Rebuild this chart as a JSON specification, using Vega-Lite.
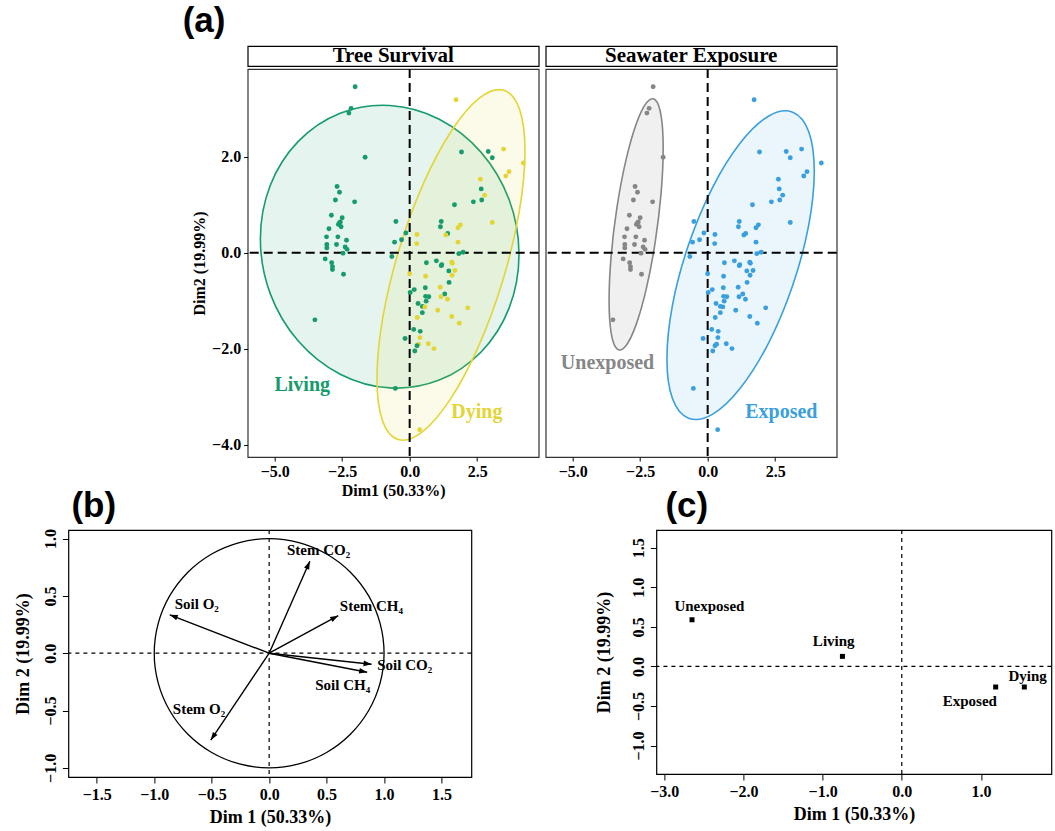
{
"$schema": "https://vega.github.io/schema/vega-lite/v6.json",
"padding": {"left": 13, "top": 4, "right": 0, "bottom": 0},
"background": "white",
"config": {
  "view": {"stroke": "black", "strokeWidth": 1.2},
  "font": "Liberation Serif",
  "axis": {"labelFont": "Liberation Serif", "labelFontWeight": "bold", "titleFont": "Liberation Serif", "titleFontWeight": "bold", "labelColor": "black", "titleColor": "black", "tickColor": "black", "grid": false, "domain": false, "labelFlush": false},
  "title": {"font": "Liberation Sans", "fontWeight": "bold", "fontSize": 35, "anchor": "start", "color": "black"},
  "text": {"font": "Liberation Serif", "fontWeight": "bold"}
},
"datasets": {
  "zero": [{"z": 0}],
  "strips": [{"strip": "Tree Survival"}, {"strip": "Seawater Exposure"}],
  "alab": [
    {"p": "a1", "lab": "Living", "x": -3.98, "y": -2.75},
    {"p": "a1", "lab": "Dying", "x": 2.49, "y": -3.33},
    {"p": "a2", "lab": "Unexposed", "x": -3.71, "y": -2.3},
    {"p": "a2", "lab": "Exposed", "x": 2.73, "y": -3.32}
  ],
  "ell": [
    {"g": "Living", "i": 0, "x": 4.05, "y": -0.037},
    {"g": "Living", "i": 1, "x": 3.686, "y": 1.103},
    {"g": "Living", "i": 2, "x": 2.647, "y": 2.092},
    {"g": "Living", "i": 3, "x": 1.095, "y": 2.783},
    {"g": "Living", "i": 4, "x": -0.74, "y": 3.069},
    {"g": "Living", "i": 5, "x": -2.575, "y": 2.907},
    {"g": "Living", "i": 6, "x": -4.127, "y": 2.32},
    {"g": "Living", "i": 7, "x": -5.166, "y": 1.401},
    {"g": "Living", "i": 8, "x": -5.53, "y": 0.287},
    {"g": "Living", "i": 9, "x": -5.166, "y": -0.853},
    {"g": "Living", "i": 10, "x": -4.127, "y": -1.842},
    {"g": "Living", "i": 11, "x": -2.575, "y": -2.533},
    {"g": "Living", "i": 12, "x": -0.74, "y": -2.819},
    {"g": "Living", "i": 13, "x": 1.095, "y": -2.657},
    {"g": "Living", "i": 14, "x": 2.647, "y": -2.07},
    {"g": "Living", "i": 15, "x": 3.686, "y": -1.151},
    {"g": "Dying", "i": 0, "x": 3.487, "y": 3.385},
    {"g": "Dying", "i": 1, "x": 4.073, "y": 2.984},
    {"g": "Dying", "i": 2, "x": 4.271, "y": 2.089},
    {"g": "Dying", "i": 3, "x": 4.054, "y": 0.839},
    {"g": "Dying", "i": 4, "x": 3.45, "y": -0.58},
    {"g": "Dying", "i": 5, "x": 2.554, "y": -1.949},
    {"g": "Dying", "i": 6, "x": 1.503, "y": -3.059},
    {"g": "Dying", "i": 7, "x": 0.457, "y": -3.742},
    {"g": "Dying", "i": 8, "x": -0.427, "y": -3.895},
    {"g": "Dying", "i": 9, "x": -1.013, "y": -3.494},
    {"g": "Dying", "i": 10, "x": -1.211, "y": -2.599},
    {"g": "Dying", "i": 11, "x": -0.994, "y": -1.349},
    {"g": "Dying", "i": 12, "x": -0.39, "y": 0.07},
    {"g": "Dying", "i": 13, "x": 0.506, "y": 1.439},
    {"g": "Dying", "i": 14, "x": 1.557, "y": 2.549},
    {"g": "Dying", "i": 15, "x": 2.603, "y": 3.232},
    {"g": "Unexposed", "i": 0, "x": -1.648, "y": 2.172},
    {"g": "Unexposed", "i": 1, "x": -1.724, "y": 2.852},
    {"g": "Unexposed", "i": 2, "x": -1.941, "y": 3.185},
    {"g": "Unexposed", "i": 3, "x": -2.266, "y": 3.127},
    {"g": "Unexposed", "i": 4, "x": -2.65, "y": 2.68},
    {"g": "Unexposed", "i": 5, "x": -3.034, "y": 1.915},
    {"g": "Unexposed", "i": 6, "x": -3.359, "y": 0.949},
    {"g": "Unexposed", "i": 7, "x": -3.576, "y": -0.072},
    {"g": "Unexposed", "i": 8, "x": -3.652, "y": -0.992},
    {"g": "Unexposed", "i": 9, "x": -3.576, "y": -1.672},
    {"g": "Unexposed", "i": 10, "x": -3.359, "y": -2.005},
    {"g": "Unexposed", "i": 11, "x": -3.034, "y": -1.947},
    {"g": "Unexposed", "i": 12, "x": -2.65, "y": -1.5},
    {"g": "Unexposed", "i": 13, "x": -2.266, "y": -0.735},
    {"g": "Unexposed", "i": 14, "x": -1.941, "y": 0.231},
    {"g": "Unexposed", "i": 15, "x": -1.724, "y": 1.252},
    {"g": "Exposed", "i": 0, "x": 3.949, "y": 1.696},
    {"g": "Exposed", "i": 1, "x": 3.742, "y": 2.526},
    {"g": "Exposed", "i": 2, "x": 3.149, "y": 2.93},
    {"g": "Exposed", "i": 3, "x": 2.265, "y": 2.851},
    {"g": "Exposed", "i": 4, "x": 1.22, "y": 2.296},
    {"g": "Exposed", "i": 5, "x": 0.175, "y": 1.353},
    {"g": "Exposed", "i": 6, "x": -0.709, "y": 0.164},
    {"g": "Exposed", "i": 7, "x": -1.302, "y": -1.088},
    {"g": "Exposed", "i": 8, "x": -1.509, "y": -2.216},
    {"g": "Exposed", "i": 9, "x": -1.302, "y": -3.046},
    {"g": "Exposed", "i": 10, "x": -0.709, "y": -3.45},
    {"g": "Exposed", "i": 11, "x": 0.175, "y": -3.371},
    {"g": "Exposed", "i": 12, "x": 1.22, "y": -2.816},
    {"g": "Exposed", "i": 13, "x": 2.265, "y": -1.873},
    {"g": "Exposed", "i": 14, "x": 3.149, "y": -0.684},
    {"g": "Exposed", "i": 15, "x": 3.742, "y": 0.568}
  ],
  "pts": [
    {"x": -2.02, "y": 3.46, "s": "Living", "e": "Unexposed"},
    {"x": -2.17, "y": 3.01, "s": "Living", "e": "Unexposed"},
    {"x": -2.25, "y": 2.91, "s": "Living", "e": "Unexposed"},
    {"x": -1.65, "y": 1.99, "s": "Living", "e": "Unexposed"},
    {"x": -2.69, "y": 1.38, "s": "Living", "e": "Unexposed"},
    {"x": -2.6, "y": 1.26, "s": "Living", "e": "Unexposed"},
    {"x": -2.75, "y": 1.1, "s": "Living", "e": "Unexposed"},
    {"x": -2.04, "y": 1.06, "s": "Living", "e": "Unexposed"},
    {"x": -2.9, "y": 0.78, "s": "Living", "e": "Unexposed"},
    {"x": -2.5, "y": 0.73, "s": "Living", "e": "Unexposed"},
    {"x": -2.64, "y": 0.59, "s": "Living", "e": "Unexposed"},
    {"x": -2.6, "y": 0.62, "s": "Living", "e": "Unexposed"},
    {"x": -2.57, "y": 0.64, "s": "Living", "e": "Unexposed"},
    {"x": -2.54, "y": 0.54, "s": "Living", "e": "Unexposed"},
    {"x": -2.99, "y": 0.5, "s": "Living", "e": "Unexposed"},
    {"x": -2.66, "y": 0.33, "s": "Living", "e": "Unexposed"},
    {"x": -3.08, "y": 0.33, "s": "Living", "e": "Unexposed"},
    {"x": -2.34, "y": 0.26, "s": "Living", "e": "Unexposed"},
    {"x": -2.71, "y": 0.17, "s": "Living", "e": "Unexposed"},
    {"x": -3.07, "y": 0.17, "s": "Living", "e": "Unexposed"},
    {"x": -3.07, "y": 0.1, "s": "Living", "e": "Unexposed"},
    {"x": -2.39, "y": 0.12, "s": "Living", "e": "Unexposed"},
    {"x": -2.32, "y": 0.07, "s": "Living", "e": "Unexposed"},
    {"x": -2.47, "y": -0.01, "s": "Living", "e": "Unexposed"},
    {"x": -3.13, "y": -0.13, "s": "Living", "e": "Unexposed"},
    {"x": -2.89, "y": -0.21, "s": "Living", "e": "Unexposed"},
    {"x": -2.86, "y": -0.29, "s": "Living", "e": "Unexposed"},
    {"x": -2.86, "y": -0.35, "s": "Living", "e": "Unexposed"},
    {"x": -2.45, "y": -0.45, "s": "Living", "e": "Unexposed"},
    {"x": -3.51, "y": -1.4, "s": "Living", "e": "Unexposed"},
    {"x": 1.72, "y": 3.19, "s": "Dying", "e": "Exposed"},
    {"x": 1.92, "y": 2.1, "s": "Living", "e": "Exposed"},
    {"x": 2.91, "y": 2.11, "s": "Living", "e": "Exposed"},
    {"x": 3.06, "y": 1.98, "s": "Living", "e": "Exposed"},
    {"x": 3.48, "y": 2.16, "s": "Dying", "e": "Exposed"},
    {"x": 4.21, "y": 1.87, "s": "Dying", "e": "Exposed"},
    {"x": 3.68, "y": 1.69, "s": "Dying", "e": "Exposed"},
    {"x": 3.56, "y": 1.6, "s": "Dying", "e": "Exposed"},
    {"x": 2.62, "y": 1.53, "s": "Dying", "e": "Exposed"},
    {"x": 2.65, "y": 1.33, "s": "Living", "e": "Exposed"},
    {"x": 2.78, "y": 1.2, "s": "Dying", "e": "Exposed"},
    {"x": 2.67, "y": 1.1, "s": "Living", "e": "Exposed"},
    {"x": 2.36, "y": 1.06, "s": "Living", "e": "Exposed"},
    {"x": 1.66, "y": 1.0, "s": "Living", "e": "Exposed"},
    {"x": 3.06, "y": 0.63, "s": "Dying", "e": "Exposed"},
    {"x": -0.51, "y": 0.65, "s": "Living", "e": "Exposed"},
    {"x": 1.17, "y": 0.65, "s": "Living", "e": "Exposed"},
    {"x": 1.14, "y": 0.54, "s": "Living", "e": "Exposed"},
    {"x": 1.88, "y": 0.58, "s": "Dying", "e": "Exposed"},
    {"x": 1.79, "y": 0.52, "s": "Dying", "e": "Exposed"},
    {"x": 1.41, "y": 0.4, "s": "Living", "e": "Exposed"},
    {"x": 1.34, "y": 0.37, "s": "Dying", "e": "Exposed"},
    {"x": -0.14, "y": 0.41, "s": "Living", "e": "Exposed"},
    {"x": 0.27, "y": 0.38, "s": "Dying", "e": "Exposed"},
    {"x": -0.3, "y": 0.27, "s": "Living", "e": "Exposed"},
    {"x": -0.56, "y": 0.22, "s": "Living", "e": "Exposed"},
    {"x": 0.26, "y": 0.19, "s": "Dying", "e": "Exposed"},
    {"x": 1.79, "y": 0.22, "s": "Dying", "e": "Exposed"},
    {"x": 1.98, "y": 0.01, "s": "Living", "e": "Exposed"},
    {"x": 1.82, "y": -0.02, "s": "Living", "e": "Exposed"},
    {"x": -0.66, "y": -0.08, "s": "Living", "e": "Exposed"},
    {"x": 0.62, "y": -0.21, "s": "Living", "e": "Exposed"},
    {"x": 0.99, "y": -0.17, "s": "Living", "e": "Exposed"},
    {"x": 1.17, "y": -0.27, "s": "Living", "e": "Exposed"},
    {"x": 1.19, "y": -0.25, "s": "Living", "e": "Exposed"},
    {"x": 1.56, "y": -0.2, "s": "Dying", "e": "Exposed"},
    {"x": 1.58, "y": -0.22, "s": "Dying", "e": "Exposed"},
    {"x": 1.45, "y": -0.38, "s": "Living", "e": "Exposed"},
    {"x": 1.68, "y": -0.37, "s": "Dying", "e": "Exposed"},
    {"x": 1.57, "y": -0.47, "s": "Dying", "e": "Exposed"},
    {"x": 0.0, "y": -0.44, "s": "Dying", "e": "Exposed"},
    {"x": 0.59, "y": -0.49, "s": "Dying", "e": "Exposed"},
    {"x": 1.46, "y": -0.62, "s": "Living", "e": "Exposed"},
    {"x": 0.58, "y": -0.73, "s": "Living", "e": "Exposed"},
    {"x": 1.13, "y": -0.72, "s": "Dying", "e": "Exposed"},
    {"x": 0.17, "y": -0.77, "s": "Living", "e": "Exposed"},
    {"x": 0.02, "y": -0.83, "s": "Living", "e": "Exposed"},
    {"x": 1.3, "y": -0.86, "s": "Living", "e": "Exposed"},
    {"x": 0.59, "y": -0.91, "s": "Living", "e": "Exposed"},
    {"x": 0.71, "y": -0.92, "s": "Living", "e": "Exposed"},
    {"x": 1.16, "y": -0.92, "s": "Dying", "e": "Exposed"},
    {"x": 1.4, "y": -0.97, "s": "Dying", "e": "Exposed"},
    {"x": 0.61, "y": -1.01, "s": "Living", "e": "Exposed"},
    {"x": 0.31, "y": -1.06, "s": "Living", "e": "Exposed"},
    {"x": 0.47, "y": -1.12, "s": "Living", "e": "Exposed"},
    {"x": 0.56, "y": -1.13, "s": "Dying", "e": "Exposed"},
    {"x": 1.04, "y": -1.2, "s": "Dying", "e": "Exposed"},
    {"x": 0.47, "y": -1.25, "s": "Living", "e": "Exposed"},
    {"x": 2.15, "y": -1.15, "s": "Dying", "e": "Exposed"},
    {"x": 1.56, "y": -1.33, "s": "Dying", "e": "Exposed"},
    {"x": 0.28, "y": -1.35, "s": "Dying", "e": "Exposed"},
    {"x": 1.84, "y": -1.47, "s": "Dying", "e": "Exposed"},
    {"x": 0.15, "y": -1.6, "s": "Living", "e": "Exposed"},
    {"x": 0.39, "y": -1.64, "s": "Living", "e": "Exposed"},
    {"x": -0.17, "y": -1.79, "s": "Living", "e": "Exposed"},
    {"x": 0.38, "y": -1.77, "s": "Dying", "e": "Exposed"},
    {"x": 0.33, "y": -1.91, "s": "Dying", "e": "Exposed"},
    {"x": 0.27, "y": -1.94, "s": "Living", "e": "Exposed"},
    {"x": 0.69, "y": -1.9, "s": "Dying", "e": "Exposed"},
    {"x": 0.9, "y": -2.0, "s": "Dying", "e": "Exposed"},
    {"x": 0.19, "y": -2.05, "s": "Living", "e": "Exposed"},
    {"x": -0.53, "y": -2.83, "s": "Living", "e": "Exposed"},
    {"x": 0.37, "y": -3.69, "s": "Dying", "e": "Exposed"}
  ],
  "circ": [
    {"i": 0, "x": 1, "y": 0}, {"i": 1, "x": 0.9659, "y": 0.2588}, {"i": 2, "x": 0.866, "y": 0.5},
    {"i": 3, "x": 0.7071, "y": 0.7071}, {"i": 4, "x": 0.5, "y": 0.866}, {"i": 5, "x": 0.2588, "y": 0.9659},
    {"i": 6, "x": 0, "y": 1}, {"i": 7, "x": -0.2588, "y": 0.9659}, {"i": 8, "x": -0.5, "y": 0.866},
    {"i": 9, "x": -0.7071, "y": 0.7071}, {"i": 10, "x": -0.866, "y": 0.5}, {"i": 11, "x": -0.9659, "y": 0.2588},
    {"i": 12, "x": -1, "y": 0}, {"i": 13, "x": -0.9659, "y": -0.2588}, {"i": 14, "x": -0.866, "y": -0.5},
    {"i": 15, "x": -0.7071, "y": -0.7071}, {"i": 16, "x": -0.5, "y": -0.866}, {"i": 17, "x": -0.2588, "y": -0.9659},
    {"i": 18, "x": 0, "y": -1}, {"i": 19, "x": 0.2588, "y": -0.9659}, {"i": 20, "x": 0.5, "y": -0.866},
    {"i": 21, "x": 0.7071, "y": -0.7071}, {"i": 22, "x": 0.866, "y": -0.5}, {"i": 23, "x": 0.9659, "y": -0.2588}
  ],
  "arr": [
    {"lab": "Stem CO₂", "x": 0.354, "y": 0.802, "lx": 0.43, "ly": 0.9},
    {"lab": "Stem CH₄", "x": 0.601, "y": 0.327, "lx": 0.89, "ly": 0.41},
    {"lab": "Soil O₂", "x": -0.865, "y": 0.335, "lx": -0.63, "ly": 0.43},
    {"lab": "Soil CO₂", "x": 0.891, "y": -0.096, "lx": 1.18, "ly": -0.1},
    {"lab": "Soil CH₄", "x": 0.853, "y": -0.166, "lx": 0.64, "ly": -0.28},
    {"lab": "Stem O₂", "x": -0.508, "y": -0.758, "lx": -0.61, "ly": -0.49}
  ],
  "cats": [
    {"lab": "Unexposed", "x": -2.65, "y": 0.59, "lx": -2.43, "ly": 0.77},
    {"lab": "Living", "x": -0.75, "y": 0.127, "lx": -0.86, "ly": 0.32},
    {"lab": "Exposed", "x": 1.186, "y": -0.26, "lx": 0.86, "ly": -0.44},
    {"lab": "Dying", "x": 1.548, "y": -0.26, "lx": 1.59, "ly": -0.12}
  ]
},
"vconcat": [
  {
    "hconcat": [
      {
        "title": {"text": "(a)", "frame": "group", "dx": -65, "offset": 5},
        "spacing": 0,
        "vconcat": [
          {
            "data": {"name": "strips"},
            "transform": [{"filter": "datum.strip == 'Tree Survival'"}],
            "width": 291, "height": 20,
            "view": {"stroke": "black", "strokeWidth": 1.2, "fill": "white"},
            "mark": {"type": "text", "fontSize": 21, "fontWeight": "bold", "font": "Liberation Serif", "color": "black"},
            "encoding": {"text": {"field": "strip", "type": "nominal"}}
          },
          {
            "width": 291, "height": 388,
            "view": {"stroke": "#333333", "strokeWidth": 1.2},
            "layer": [
              {
                "data": {"name": "ell"},
                "transform": [{"filter": "datum.g == 'Living'"}],
                "mark": {"type": "line", "interpolate": "cardinal-closed", "stroke": "#169b6b", "strokeWidth": 1.6, "fill": "#169b6b", "fillOpacity": 0.11},
                "encoding": {
                  "x": {"field": "x", "type": "quantitative", "scale": {"domain": [-6.0, 4.78], "nice": false, "zero": false}, "axis": {"values": [-5, -2.5, 0, 2.5], "format": ".1f", "title": "Dim1 (50.33%)", "tickSize": 4, "labelPadding": 2, "labelFontSize": 16, "titleFontSize": 16, "titlePadding": 3}},
                  "y": {"field": "y", "type": "quantitative", "scale": {"domain": [-4.26, 3.83], "nice": false, "zero": false}, "axis": {"values": [-4, -2, 0, 2], "format": ".1f", "title": "Dim2 (19.99%)", "tickSize": 4, "labelPadding": 3, "labelFontSize": 16, "titleFontSize": 16, "titlePadding": 4}},
                  "order": {"field": "i", "type": "quantitative"}
                }
              },
              {
                "data": {"name": "ell"},
                "transform": [{"filter": "datum.g == 'Dying'"}],
                "mark": {"type": "line", "interpolate": "cardinal-closed", "stroke": "#e3d534", "strokeWidth": 1.6, "fill": "#e3d534", "fillOpacity": 0.1},
                "encoding": {
                  "x": {"field": "x", "type": "quantitative"},
                  "y": {"field": "y", "type": "quantitative"},
                  "order": {"field": "i", "type": "quantitative"}
                }
              },
              {
                "data": {"name": "zero"},
                "mark": {"type": "rule", "strokeDash": [9, 5], "strokeWidth": 2, "color": "black"},
                "encoding": {"x": {"field": "z", "type": "quantitative", "title": "Dim1 (50.33%)"}}
              },
              {
                "data": {"name": "zero"},
                "mark": {"type": "rule", "strokeDash": [9, 5], "strokeWidth": 2, "color": "black"},
                "encoding": {"y": {"field": "z", "type": "quantitative", "title": "Dim2 (19.99%)"}}
              },
              {
                "data": {"name": "pts"},
                "mark": {"type": "circle", "size": 24, "opacity": 1},
                "encoding": {
                  "x": {"field": "x", "type": "quantitative"},
                  "y": {"field": "y", "type": "quantitative"},
                  "color": {"field": "s", "type": "nominal", "scale": {"domain": ["Living", "Dying"], "range": ["#169b6b", "#e3d534"]}, "legend": null}
                }
              },
              {
                "data": {"name": "alab"},
                "transform": [{"filter": "datum.p == 'a1'"}],
                "mark": {"type": "text", "fontSize": 20, "fontWeight": "bold", "font": "Liberation Serif"},
                "encoding": {
                  "x": {"field": "x", "type": "quantitative"},
                  "y": {"field": "y", "type": "quantitative"},
                  "text": {"field": "lab", "type": "nominal"},
                  "color": {"field": "lab", "type": "nominal", "scale": {"domain": ["Living", "Dying"], "range": ["#169b6b", "#e3d534"]}, "legend": null}
                }
              }
            ]
          }
        ]
      },
      {
        "spacing": 0,
        "vconcat": [
          {
            "data": {"name": "strips"},
            "transform": [{"filter": "datum.strip == 'Seawater Exposure'"}],
            "width": 291, "height": 20,
            "view": {"stroke": "black", "strokeWidth": 1.2, "fill": "white"},
            "mark": {"type": "text", "fontSize": 21, "fontWeight": "bold", "font": "Liberation Serif", "color": "black"},
            "encoding": {"text": {"field": "strip", "type": "nominal"}}
          },
          {
            "width": 291, "height": 388,
            "view": {"stroke": "#333333", "strokeWidth": 1.2},
            "layer": [
              {
                "data": {"name": "ell"},
                "transform": [{"filter": "datum.g == 'Unexposed'"}],
                "mark": {"type": "line", "interpolate": "cardinal-closed", "stroke": "#868686", "strokeWidth": 1.6, "fill": "#868686", "fillOpacity": 0.12},
                "encoding": {
                  "x": {"field": "x", "type": "quantitative", "scale": {"domain": [-6.0, 4.78], "nice": false, "zero": false}, "axis": {"values": [-5, -2.5, 0, 2.5], "format": ".1f", "title": null, "tickSize": 4, "labelPadding": 2, "labelFontSize": 16}},
                  "y": {"field": "y", "type": "quantitative", "scale": {"domain": [-4.26, 3.83], "nice": false, "zero": false}, "axis": {"orient": "right", "labels": false, "ticks": false, "domain": false, "title": " ", "titlePadding": 25}},
                  "order": {"field": "i", "type": "quantitative"}
                }
              },
              {
                "data": {"name": "ell"},
                "transform": [{"filter": "datum.g == 'Exposed'"}],
                "mark": {"type": "line", "interpolate": "cardinal-closed", "stroke": "#3aa0dd", "strokeWidth": 1.6, "fill": "#3aa0dd", "fillOpacity": 0.1},
                "encoding": {
                  "x": {"field": "x", "type": "quantitative"},
                  "y": {"field": "y", "type": "quantitative"},
                  "order": {"field": "i", "type": "quantitative"}
                }
              },
              {
                "data": {"name": "zero"},
                "mark": {"type": "rule", "strokeDash": [9, 5], "strokeWidth": 2, "color": "black"},
                "encoding": {"x": {"field": "z", "type": "quantitative", "title": null}}
              },
              {
                "data": {"name": "zero"},
                "mark": {"type": "rule", "strokeDash": [9, 5], "strokeWidth": 2, "color": "black"},
                "encoding": {"y": {"field": "z", "type": "quantitative", "title": " "}}
              },
              {
                "data": {"name": "pts"},
                "mark": {"type": "circle", "size": 24, "opacity": 1},
                "encoding": {
                  "x": {"field": "x", "type": "quantitative"},
                  "y": {"field": "y", "type": "quantitative"},
                  "color": {"field": "e", "type": "nominal", "scale": {"domain": ["Unexposed", "Exposed"], "range": ["#868686", "#3aa0dd"]}, "legend": null}
                }
              },
              {
                "data": {"name": "alab"},
                "transform": [{"filter": "datum.p == 'a2'"}],
                "mark": {"type": "text", "fontSize": 20, "fontWeight": "bold", "font": "Liberation Serif"},
                "encoding": {
                  "x": {"field": "x", "type": "quantitative"},
                  "y": {"field": "y", "type": "quantitative"},
                  "text": {"field": "lab", "type": "nominal"},
                  "color": {"field": "lab", "type": "nominal", "scale": {"domain": ["Unexposed", "Exposed"], "range": ["#868686", "#3aa0dd"]}, "legend": null}
                }
              }
            ]
          }
        ]
      }
    ],
    "spacing": 3,
    "resolve": {"scale": {"color": "independent"}}
  },
  {
    "hconcat": [
      {
        "title": {"text": "(b)", "frame": "group", "dx": 3, "offset": 5},
        "width": 403, "height": 247,
        "view": {"stroke": "black", "strokeWidth": 1.2},
        "layer": [
          {
            "data": {"name": "circ"},
            "mark": {"type": "line", "interpolate": "cardinal-closed", "stroke": "black", "strokeWidth": 1.3},
            "encoding": {
              "x": {"field": "x", "type": "quantitative", "scale": {"domain": [-1.747, 1.76], "nice": false, "zero": false}, "axis": {"values": [-1.5, -1, -0.5, 0, 0.5, 1, 1.5], "format": ".1f", "title": "Dim 1 (50.33%)", "tickSize": 6, "labelPadding": 3, "labelFontSize": 16, "titleFontSize": 18, "titlePadding": 6}},
              "y": {"field": "y", "type": "quantitative", "scale": {"domain": [-1.08, 1.075], "nice": false, "zero": false}, "axis": {"values": [-1, -0.5, 0, 0.5, 1], "format": ".1f", "title": "Dim 2 (19.99%)", "tickSize": 6, "labelPadding": 4, "labelAngle": -90, "labelAlign": "center", "labelBaseline": "bottom", "labelFontSize": 16, "titleFontSize": 18, "titlePadding": 10}},
              "order": {"field": "i", "type": "quantitative"}
            }
          },
          {
            "data": {"name": "zero"},
            "mark": {"type": "rule", "strokeDash": [4, 4], "strokeWidth": 1.2, "color": "black"},
            "encoding": {"x": {"field": "z", "type": "quantitative", "title": "Dim 1 (50.33%)"}}
          },
          {
            "data": {"name": "zero"},
            "mark": {"type": "rule", "strokeDash": [4, 4], "strokeWidth": 1.2, "color": "black"},
            "encoding": {"y": {"field": "z", "type": "quantitative", "title": "Dim 2 (19.99%)"}}
          },
          {
            "data": {"name": "arr"},
            "mark": {"type": "rule", "strokeWidth": 1.4, "color": "black"},
            "encoding": {
              "x": {"field": "x", "type": "quantitative"},
              "y": {"field": "y", "type": "quantitative"},
              "x2": {"datum": 0},
              "y2": {"datum": 0}
            }
          },
          {
            "data": {"name": "arr"},
            "transform": [{"calculate": "atan2(datum.x, datum.y) * 180 / PI", "as": "ang"}],
            "mark": {"type": "point", "shape": "M0,0L-0.35,1L0.35,1Z", "filled": true, "color": "black", "size": 256, "opacity": 1},
            "encoding": {
              "x": {"field": "x", "type": "quantitative"},
              "y": {"field": "y", "type": "quantitative"},
              "angle": {"field": "ang", "type": "quantitative", "scale": null}
            }
          },
          {
            "data": {"name": "arr"},
            "mark": {"type": "text", "fontSize": 15, "fontWeight": "bold", "font": "Liberation Serif", "color": "black"},
            "encoding": {
              "x": {"field": "lx", "type": "quantitative", "title": "Dim 1 (50.33%)"},
              "y": {"field": "ly", "type": "quantitative", "title": "Dim 2 (19.99%)"},
              "text": {"field": "lab", "type": "nominal"}
            }
          }
        ]
      },
      {
        "title": {"text": "(c)", "frame": "group", "dx": 9, "offset": 5},
        "width": 395, "height": 244,
        "view": {"stroke": "black", "strokeWidth": 1.2},
        "layer": [
          {
            "data": {"name": "zero"},
            "mark": {"type": "rule", "strokeDash": [4, 4], "strokeWidth": 1.2, "color": "black"},
            "encoding": {"x": {"field": "z", "type": "quantitative", "scale": {"domain": [-3.1, 1.89], "nice": false, "zero": false}, "axis": {"values": [-3, -2, -1, 0, 1], "format": ".1f", "title": "Dim 1 (50.33%)", "tickSize": 6, "labelPadding": 3, "labelFontSize": 16, "titleFontSize": 18, "titlePadding": 6}}}
          },
          {
            "data": {"name": "zero"},
            "mark": {"type": "rule", "strokeDash": [4, 4], "strokeWidth": 1.2, "color": "black"},
            "encoding": {"y": {"field": "z", "type": "quantitative", "scale": {"domain": [-1.36, 1.725], "nice": false, "zero": false}, "axis": {"values": [-1, -0.5, 0, 0.5, 1, 1.5], "format": ".1f", "title": "Dim 2 (19.99%)", "tickSize": 6, "labelPadding": 4, "labelAngle": -90, "labelAlign": "center", "labelBaseline": "bottom", "labelFontSize": 16, "titleFontSize": 18, "titlePadding": 17}}}
          },
          {
            "data": {"name": "cats"},
            "mark": {"type": "square", "size": 25, "color": "black", "opacity": 1},
            "encoding": {
              "x": {"field": "x", "type": "quantitative", "title": "Dim 1 (50.33%)"},
              "y": {"field": "y", "type": "quantitative", "title": "Dim 2 (19.99%)"}
            }
          },
          {
            "data": {"name": "cats"},
            "mark": {"type": "text", "fontSize": 15, "fontWeight": "bold", "font": "Liberation Serif", "color": "black"},
            "encoding": {
              "x": {"field": "lx", "type": "quantitative", "title": "Dim 1 (50.33%)"},
              "y": {"field": "ly", "type": "quantitative", "title": "Dim 2 (19.99%)"},
              "text": {"field": "lab", "type": "nominal"}
            }
          }
        ]
      }
    ],
    "spacing": 121
  }
],
"spacing": -12,
"center": true
}
